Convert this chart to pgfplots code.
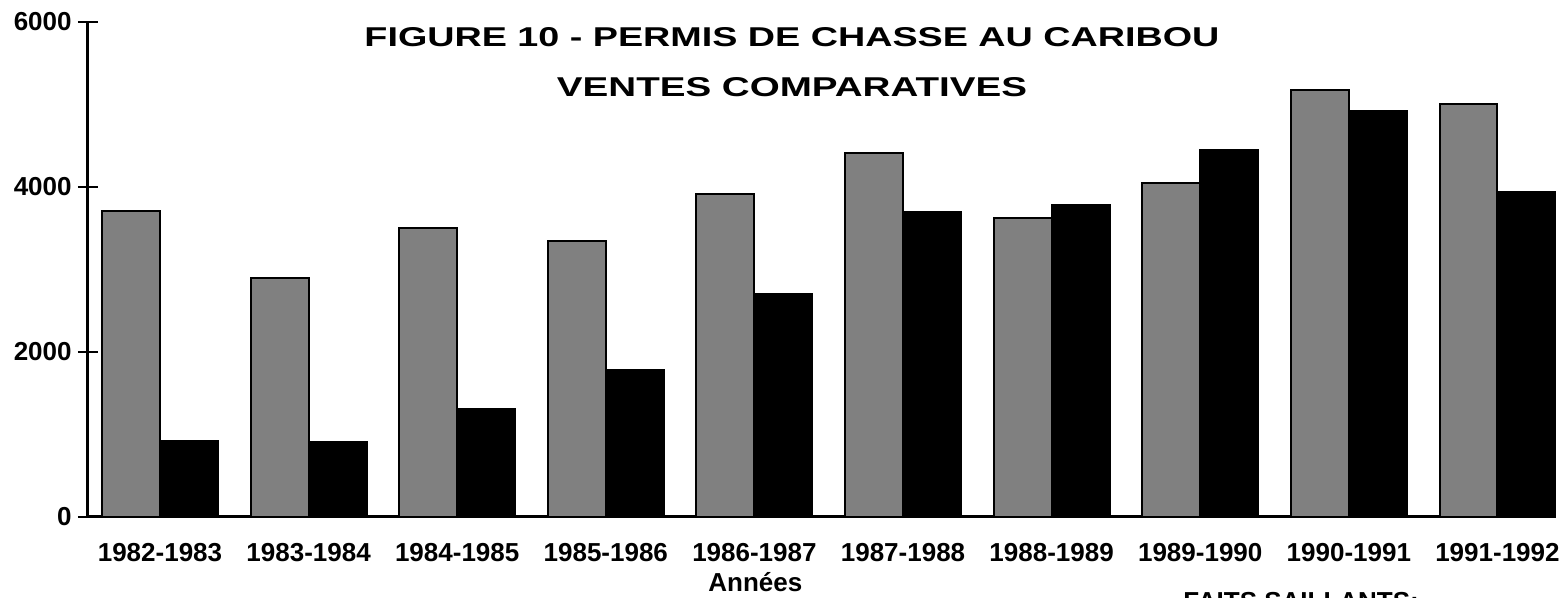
\documentclass[border=0pt]{standalone}
\usepackage{pgfplots}
\pgfplotsset{compat=1.18}
\usepackage{fontspec}
\setmainfont{Liberation Sans}
\begin{document}
\begin{tikzpicture}
\begin{axis}[
  scale only axis, width=734pt, height=247.75pt,
  at={(44pt,40.5pt)}, anchor=south west,
  xmin=-0.4845, xmax=9.394, ymin=0, ymax=6000,
  axis x line=bottom, axis y line=left,
  axis line style={-, line width=1.5pt, black},
  xtick={0,1,2,3,4,5,6,7,8,9},
  xticklabels={1982-1983,1983-1984,1984-1985,1985-1986,1986-1987,1987-1988,1988-1989,1989-1990,1990-1991,1991-1992},
  ytick={0,2000,4000,6000},
  tick align=center, major tick length=10pt,
  x tick style={draw=none}, y tick style={line width=1pt, black},
  ticklabel style={font=\bfseries\fontsize{13}{15}\selectfont},
  xticklabel style={anchor=north, yshift=-4.7pt},
  yticklabel style={anchor=east, inner sep=0pt, xshift=-3pt},
  /pgf/number format/1000 sep={},
  /pgf/number format/assume math mode=true,
]
\addplot[ybar, bar width=0.39, bar shift=-0.195, fill=black!50, draw=black, line width=1pt]
  coordinates {(0,3700) (1,2890) (2,3500) (3,3340) (4,3910) (5,4410) (6,3620) (7,4040) (8,5170) (9,5000)};
\addplot[ybar, bar width=0.39, bar shift=0.195, fill=black, draw=black, line width=1pt]
  coordinates {(0,920) (1,910) (2,1310) (3,1780) (4,2700) (5,3690) (6,3780) (7,4440) (8,4920) (9,3940)};
\end{axis}
\node[anchor=base, inner sep=0pt] at (396pt,275.5pt) {\resizebox{427.5pt}{9.5pt}{\bfseries FIGURE 10 - PERMIS DE CHASSE AU CARIBOU}};
\node[anchor=base, inner sep=0pt] at (396pt,250.5pt) {\resizebox{235pt}{9.5pt}{\bfseries VENTES COMPARATIVES}};
\node[anchor=base west, inner sep=0pt, font=\bfseries\fontsize{13}{15}\selectfont] at (354pt,3pt) {Années};
\node[anchor=base west, inner sep=0pt, font=\bfseries\fontsize{13}{15}\selectfont] at (591.5pt,-6.3pt) {FAITS SAILLANTS:};
\pgfresetboundingbox
\path[use as bounding box] (0,0) rectangle (779.5pt,299pt);
\end{tikzpicture}
\end{document}
